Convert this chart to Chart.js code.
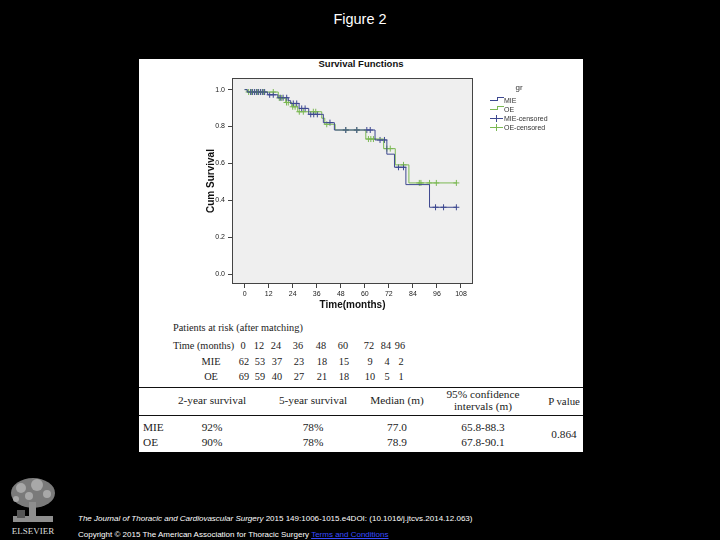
<!DOCTYPE html>
<html>
<head>
<meta charset="utf-8">
<script src="https://cdn.jsdelivr.net/npm/chart.js@4"></script>
<style>
  body { margin: 0; background: #000; }
  #page { position: relative; width: 720px; height: 540px; overflow: hidden; background: #000;
          font-family: "Liberation Sans", Arial, sans-serif; }
  #panel { position: absolute; left: 139px; top: 59px; width: 444px; height: 393px; background: #fff; }
  #chartBox { position: absolute; left: 139px; top: 70px; width: 444px; height: 245px; }
  .t { position: absolute; white-space: nowrap; line-height: 1; }
  .rule { position: absolute; left: 139px; width: 444px; height: 1px; background: #111; }
  .serif { font-family: "Liberation Serif", "Times New Roman", serif; font-size: 10.3px; color: #222; }
  .serif2 { font-family: "Liberation Serif", "Times New Roman", serif; font-size: 11.3px; color: #222; }
</style>
</head>
<body>
<div id="page">
  <div id="panel"></div>
  <div id="chartBox"><canvas id="km" width="444" height="245"></canvas></div>
  <div class="rule" style="top:387px"></div>
  <div class="rule" style="top:415px"></div>
  <canvas id="logo" width="52" height="48" style="position:absolute;left:7px;top:476px"></canvas>
</div>
<script>
// Kaplan-Meier steps (time in months, cumulative survival)
const mieTimes = [0, 1.3, 11.5, 16.6, 21.8, 23, 27.2, 32, 39.3, 44.8, 65.1, 71, 74.8, 80.5, 92.3, 105.7];
const mieSurv  = [1.0, 0.987, 0.972, 0.956, 0.94, 0.925, 0.898, 0.866, 0.821, 0.781, 0.727, 0.65, 0.579, 0.485, 0.362, 0.362];
const oeTimes  = [0, 1.3, 16.8, 20.5, 23.5, 26.5, 38.5, 40, 45.2, 60.5, 69.4, 75.2, 82, 105.7];
const oeSurv   = [1.0, 0.987, 0.955, 0.93, 0.907, 0.88, 0.845, 0.812, 0.781, 0.732, 0.68, 0.592, 0.494, 0.494];

// censored marks
const mieCensT = [3, 4, 5, 6, 7, 8, 9, 10, 12.5, 14.3, 17.8, 19.2, 21, 24.3, 26, 28.5, 30.2, 33, 34.5, 36.3,
                  42.6, 50.5, 56, 61, 62.7, 67.6, 69.8, 76.8, 79.3, 95.3, 99.3, 105.7];
const mieCensS = [0.987, 0.987, 0.987, 0.987, 0.987, 0.987, 0.987, 0.987, 0.972, 0.972, 0.956, 0.956, 0.956,
                  0.925, 0.925, 0.898, 0.898, 0.866, 0.866, 0.866, 0.821, 0.781, 0.781, 0.781, 0.781,
                  0.727, 0.727, 0.579, 0.579, 0.362, 0.362, 0.362];
const oeCensT  = [2, 3.5, 5, 6.5, 8, 9.5, 14.3, 17.3, 18.5, 20.9, 21.8, 24, 25.2, 27.3, 29.3, 34.3, 35.5, 41,
                  50.5, 56, 61.8, 63, 64.3, 71, 72.7, 79.3, 87.2, 88, 92.3, 95.7, 105.7];
const oeCensS  = [0.987, 0.987, 0.987, 0.987, 0.987, 0.987, 0.987, 0.955, 0.955, 0.93, 0.93, 0.907, 0.907,
                  0.88, 0.88, 0.88, 0.88, 0.812, 0.781, 0.781, 0.732, 0.732, 0.732, 0.68, 0.68, 0.592,
                  0.494, 0.494, 0.494, 0.494, 0.494];

const xTicks = [0, 12, 24, 36, 48, 60, 72, 84, 96, 108];
const yTicks = [0, 0.2, 0.4, 0.6, 0.8, 1.0];

// patients at risk
const riskTimes = [0, 12, 24, 36, 48, 60, 72, 84, 96];
const mieRisk = [62, 53, 37, 23, 18, 15, 9, 4, 2];
const oeRisk  = [69, 59, 40, 27, 21, 18, 10, 5, 1];

// summary table
const sumHeaders = ['2-year survival', '5-year survival', 'Median (m)', '95% confidence|intervals (m)', 'P value'];
const sumGroups = ['MIE', 'OE'];
const twoYear  = ['92%', '90%'];
const fiveYear = ['78%', '78%'];
const medians  = ['77.0', '78.9'];
const ci95     = ['65.8-88.3', '67.8-90.1'];
const pValue   = '0.864';

const blue = '#3d4890';
const green = '#7bb853';

const page = document.getElementById('page');
function put(text, x, y, cls, align, style) {
  const d = document.createElement('div');
  d.className = 't' + (cls ? ' ' + cls : '');
  d.textContent = text;
  d.style.left = x + 'px';
  d.style.top = y + 'px';
  const tx = align === 'left' ? '0' : align === 'right' ? '-100%' : '-50%';
  d.style.transform = 'translate(' + tx + ',-50%)';
  Object.assign(d.style, style || {});
  page.appendChild(d);
  return d;
}

put('Figure 2', 360, 19, '', 'center', {color: '#fff', fontSize: '14.5px'});
put('Survival Functions', 361, 64, '', 'center', {color: '#111', fontSize: '9.5px', fontWeight: 'bold'});

// legend
put('gr', 519, 88, '', 'center', {color: '#333', fontSize: '8px'});
const legendItems = [['MIE', blue, 'step'], ['OE', green, 'step'], ['MIE-censored', blue, 'cross'], ['OE-censored', green, 'cross']];
legendItems.forEach((it, i) => {
  const y = 100 + i * 9;
  const a = document.createElement('div');
  const b = document.createElement('div');
  if (it[2] === 'step') {
    a.style.cssText = `position:absolute;left:490px;top:${y}px;width:7px;height:0;border-top:1px solid ${it[1]};`;
    b.style.cssText = `position:absolute;left:497px;top:${y - 3}px;width:6px;height:3px;border-top:1px solid ${it[1]};border-left:1px solid ${it[1]};`;
  } else {
    a.style.cssText = `position:absolute;left:490px;top:${y}px;width:13px;height:0;border-top:1px solid ${it[1]};`;
    b.style.cssText = `position:absolute;left:496px;top:${y - 3}px;width:0;height:7px;border-left:1px solid ${it[1]};`;
  }
  page.appendChild(a); page.appendChild(b);
  put(it[0], 504, y, '', 'left', {color: '#333', fontSize: '7px'});
});

// risk table
const riskX = [243, 259, 276, 298, 321, 343, 369, 386, 400];
put('Patients at risk (after matching)', 173, 328, 'serif', 'left');
put('Time (months)', 173, 346, 'serif', 'left');
put('MIE', 211, 362, 'serif');
put('OE', 211, 377, 'serif');
riskTimes.forEach((t, i) => {
  put(String(t), riskX[i], 346, 'serif');
  put(String(mieRisk[i]), riskX[i] + 1, 362, 'serif');
  put(String(oeRisk[i]), riskX[i] + 1, 377, 'serif');
});

// summary table
const colX = [212, 313, 397, 483, 564];
sumHeaders.forEach((h, i) => {
  const parts = h.split('|');
  if (parts.length === 2) {
    put(parts[0], colX[i], 395, 'serif2');
    put(parts[1], colX[i], 407, 'serif2');
  } else {
    put(h, colX[i], 401, 'serif2', 'center', i === 4 ? {fontSize: '10.8px'} : {});
  }
});
sumGroups.forEach((g, r) => {
  const y = 428 + r * 15;
  put(g, 143, y, 'serif2', 'left');
  put(twoYear[r], colX[0], y, 'serif2');
  put(fiveYear[r], colX[1], y, 'serif2');
  put(medians[r], colX[2], y, 'serif2');
  put(ci95[r], colX[3], y, 'serif2');
});
put(pValue, colX[4], 435, 'serif2');

// footer
const cite = put('', 78, 519, '', 'left', {color: '#fff', fontSize: '8px'});
cite.innerHTML = '<i>The Journal of Thoracic and Cardiovascular Surgery</i> 2015 149:1006-1015.e4DOI: (10.1016/j.jtcvs.2014.12.063)';
const copy = put('', 78, 535, '', 'left', {color: '#fff', fontSize: '8px'});
copy.innerHTML = 'Copyright © 2015 The American Association for Thoracic Surgery <span style="color:#3a4cff;text-decoration:underline">Terms and Conditions</span>';
put('ELSEVIER', 33, 531, '', 'center', {color: '#ddd', fontSize: '9px', fontFamily: '"Liberation Serif", serif'});

// rough tree logo
(function () {
  const c = document.getElementById('logo').getContext('2d');
  c.fillStyle = '#7a7a7a';
  c.beginPath(); c.ellipse(26, 17, 22, 15, 0, 0, Math.PI * 2); c.fill();
  c.fillStyle = '#a8a8a8';
  [[14, 12, 5], [30, 9, 6], [40, 18, 4], [22, 20, 4], [9, 23, 3]].forEach(p => {
    c.beginPath(); c.arc(p[0], p[1], p[2], 0, Math.PI * 2); c.fill();
  });
  c.fillStyle = '#8e8e8e';
  c.fillRect(22, 26, 7, 16);
  c.fillRect(6, 40, 40, 6);
  c.fillStyle = '#555';
  c.fillRect(10, 34, 8, 8);
})();

const plotFrame = {
  id: 'plotFrame',
  beforeDatasetsDraw(chart) {
    const { ctx, chartArea: a } = chart;
    ctx.save();
    ctx.fillStyle = '#efefef';
    ctx.fillRect(a.left, a.top, a.right - a.left, a.bottom - a.top);
    ctx.restore();
  },
  afterDraw(chart) {
    const { ctx, chartArea: a } = chart;
    ctx.save();
    ctx.strokeStyle = '#444';
    ctx.lineWidth = 1;
    ctx.strokeRect(a.left + 0.5, a.top + 0.5, a.right - a.left - 1, a.bottom - a.top - 1);
    ctx.restore();
  }
};

const pts = (xs, ys) => xs.map((x, i) => ({ x: x, y: ys[i] }));

new Chart(document.getElementById('km'), {
  type: 'scatter',
  data: {
    datasets: [{
      label: 'MIE',
      data: pts(mieTimes, mieSurv),
      showLine: true,
      stepped: 'before',
      borderColor: blue,
      borderWidth: 1,
      pointRadius: 0
    }, {
      label: 'OE',
      data: pts(oeTimes, oeSurv),
      showLine: true,
      stepped: 'before',
      borderColor: green,
      borderWidth: 1,
      pointRadius: 0
    }, {
      label: 'MIE-censored',
      data: pts(mieCensT, mieCensS),
      pointStyle: 'cross',
      pointRadius: 3,
      borderColor: blue,
      borderWidth: 1
    }, {
      label: 'OE-censored',
      data: pts(oeCensT, oeCensS),
      pointStyle: 'cross',
      pointRadius: 3,
      borderColor: green,
      borderWidth: 1
    }]
  },
  options: {
    responsive: false,
    animation: false,
    devicePixelRatio: 1,
    layout: { padding: { left: 64, right: 110, top: 8, bottom: 2 } },
    plugins: {
      legend: { display: false },
      tooltip: { enabled: false }
    },
    scales: {
      x: {
        type: 'linear',
        min: -6.3,
        max: 114,
        afterBuildTicks: s => { s.ticks = xTicks.map(v => ({ value: v })); },
        afterFit: s => { s.height = 29; },
        border: { display: false },
        grid: { drawOnChartArea: false, drawTicks: true, tickLength: 4, color: '#444' },
        ticks: { color: '#222', font: { size: 7, family: 'Liberation Sans' }, padding: 2, maxRotation: 0 },
        title: { display: true, text: 'Time(months)', color: '#111',
                 font: { size: 10, weight: 'bold', family: 'Liberation Sans' }, padding: { top: 2, bottom: 2 } }
      },
      y: {
        min: -0.054,
        max: 1.063,
        afterBuildTicks: s => { s.ticks = yTicks.map(v => ({ value: v })); },
        afterFit: s => { s.width = 29; },
        border: { display: false },
        grid: { drawOnChartArea: false, drawTicks: true, tickLength: 4, color: '#444' },
        ticks: { color: '#222', font: { size: 7, family: 'Liberation Sans' }, padding: 3,
                 callback: v => v.toFixed(1) },
        title: { display: true, text: 'Cum Survival', color: '#111',
                 font: { size: 10, weight: 'bold', family: 'Liberation Sans' }, padding: { top: 2, bottom: 2 } }
      }
    }
  },
  plugins: [plotFrame]
});
</script>
</body>
</html>
